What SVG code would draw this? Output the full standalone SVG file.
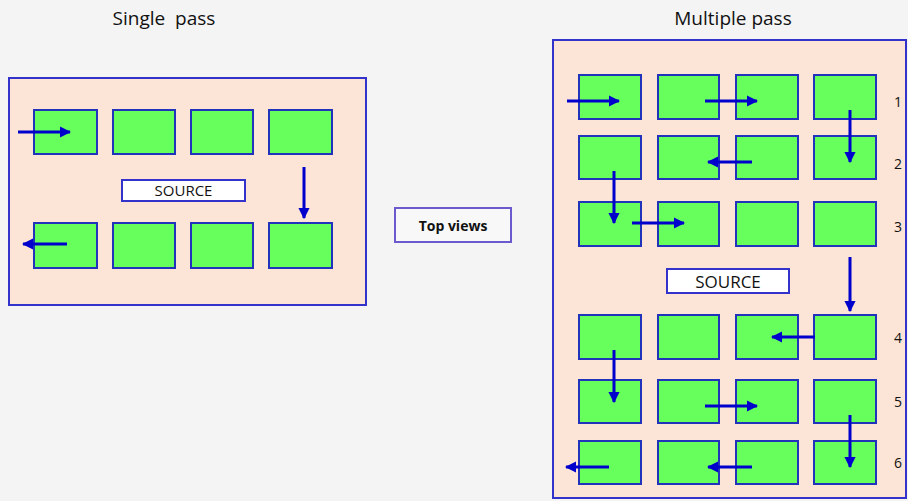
<svg xmlns="http://www.w3.org/2000/svg" width="908" height="501" viewBox="0 0 908 501">
<style>
.bg{fill:#f4f4f4}
.panel{fill:#fce4d6;stroke:#3333cc;stroke-width:2}
.cell{fill:#66ff5c;stroke:#2233bb;stroke-width:2}
.src{fill:#ffffff;stroke:#3333cc;stroke-width:2}
.arr{stroke:#0000cc;stroke-width:3;fill:none;marker-end:url(#ah)}
.t{font-family:"Open Sans","Liberation Sans",sans-serif;fill:#111}
.title{font-size:19px}
.num{font-size:14px}
</style>
<defs>
<marker id="ah" viewBox="0 0 10 10" refX="9" refY="5" markerWidth="3.8" markerHeight="3.8" orient="auto" markerUnits="strokeWidth">
<path d="M0,0 L10,5 L0,10 z" fill="#0000cc"/>
</marker>
</defs>
<rect class="bg" x="0" y="0" width="908" height="501"/>
<text class="t title" x="164" y="25" text-anchor="middle" xml:space="preserve">Single  pass</text>
<text class="t title" x="733" y="25" text-anchor="middle">Multiple pass</text>

<g id="single-pass">
<rect class="panel" x="9" y="78" width="357" height="227"/>
<g id="s-r1c1"><rect class="cell" x="34" y="110" width="63" height="44"/></g>
<g id="s-r1c2"><rect class="cell" x="113" y="110" width="62" height="44"/></g>
<g id="s-r1c3"><rect class="cell" x="191" y="110" width="62" height="44"/></g>
<g id="s-r1c4"><rect class="cell" x="269" y="110" width="63" height="44"/></g>
<g id="s-r2c1"><rect class="cell" x="34" y="223" width="63" height="45"/></g>
<g id="s-r2c2"><rect class="cell" x="113" y="223" width="62" height="45"/></g>
<g id="s-r2c3"><rect class="cell" x="191" y="223" width="62" height="45"/></g>
<g id="s-r2c4"><rect class="cell" x="269" y="223" width="63" height="45"/></g>
<g id="s-source"><rect class="src" x="122" y="180" width="123" height="21"/>
<text class="t" x="183.5" y="196" text-anchor="middle" font-size="15">SOURCE</text></g>
</g>

<g id="top-views">
<rect x="395" y="208" width="116" height="34" fill="#f8f8f8" stroke="#6a5acd" stroke-width="2"/>
<text class="t" x="453" y="231" text-anchor="middle" font-size="14" font-weight="bold">Top views</text>
</g>

<g id="multiple-pass">
<rect class="panel" x="553" y="40" width="353" height="458"/>
<g id="m-r1c1"><rect class="cell" x="579" y="75" width="62" height="44"/></g>
<g id="m-r1c2"><rect class="cell" x="658" y="75" width="61" height="44"/></g>
<g id="m-r1c3"><rect class="cell" x="736" y="75" width="62" height="44"/></g>
<g id="m-r1c4"><rect class="cell" x="814" y="75" width="62" height="44"/></g>
<g id="m-r2c1"><rect class="cell" x="579" y="136" width="62" height="43"/></g>
<g id="m-r2c2"><rect class="cell" x="658" y="136" width="61" height="43"/></g>
<g id="m-r2c3"><rect class="cell" x="736" y="136" width="62" height="43"/></g>
<g id="m-r2c4"><rect class="cell" x="814" y="136" width="62" height="43"/></g>
<g id="m-r3c1"><rect class="cell" x="579" y="202" width="62" height="44"/></g>
<g id="m-r3c2"><rect class="cell" x="658" y="202" width="61" height="44"/></g>
<g id="m-r3c3"><rect class="cell" x="736" y="202" width="62" height="44"/></g>
<g id="m-r3c4"><rect class="cell" x="814" y="202" width="62" height="44"/></g>
<g id="m-r4c1"><rect class="cell" x="579" y="315" width="62" height="44"/></g>
<g id="m-r4c2"><rect class="cell" x="658" y="315" width="61" height="44"/></g>
<g id="m-r4c3"><rect class="cell" x="736" y="315" width="62" height="44"/></g>
<g id="m-r4c4"><rect class="cell" x="814" y="315" width="62" height="44"/></g>
<g id="m-r5c1"><rect class="cell" x="579" y="380" width="62" height="43"/></g>
<g id="m-r5c2"><rect class="cell" x="658" y="380" width="61" height="43"/></g>
<g id="m-r5c3"><rect class="cell" x="736" y="380" width="62" height="43"/></g>
<g id="m-r5c4"><rect class="cell" x="814" y="380" width="62" height="43"/></g>
<g id="m-r6c1"><rect class="cell" x="579" y="441" width="62" height="43"/></g>
<g id="m-r6c2"><rect class="cell" x="658" y="441" width="61" height="43"/></g>
<g id="m-r6c3"><rect class="cell" x="736" y="441" width="62" height="43"/></g>
<g id="m-r6c4"><rect class="cell" x="814" y="441" width="62" height="43"/></g>
<g id="m-source"><rect class="src" x="667" y="269" width="122" height="24"/>
<text class="t" x="728" y="287.5" text-anchor="middle" font-size="17">SOURCE</text></g>
<g id="row-numbers">
<text class="t num" x="898" y="107" text-anchor="middle">1</text>
<text class="t num" x="898" y="169" text-anchor="middle">2</text>
<text class="t num" x="898" y="232" text-anchor="middle">3</text>
<text class="t num" x="898" y="343" text-anchor="middle">4</text>
<text class="t num" x="898" y="407" text-anchor="middle">5</text>
<text class="t num" x="898" y="468" text-anchor="middle">6</text>
</g>
</g>

<g id="connectors">
<line class="arr" x1="18" y1="132" x2="70" y2="132"/>
<line class="arr" x1="304" y1="167" x2="304" y2="218"/>
<line class="arr" x1="67" y1="244" x2="23" y2="244"/>

<line class="arr" x1="567" y1="101" x2="619" y2="101"/>
<line class="arr" x1="705" y1="101" x2="757" y2="101"/>
<line class="arr" x1="850" y1="110" x2="850" y2="162"/>
<line class="arr" x1="752" y1="162" x2="708" y2="162"/>
<line class="arr" x1="614" y1="171" x2="614" y2="223"/>
<line class="arr" x1="632" y1="223" x2="684" y2="223"/>
<line class="arr" x1="850" y1="257" x2="850" y2="311"/>
<line class="arr" x1="815" y1="337" x2="772" y2="337"/>
<line class="arr" x1="614" y1="350" x2="614" y2="402"/>
<line class="arr" x1="705" y1="406" x2="757" y2="406"/>
<line class="arr" x1="850" y1="415" x2="850" y2="467"/>
<line class="arr" x1="752" y1="467" x2="708" y2="467"/>
<line class="arr" x1="609" y1="467" x2="566" y2="467"/>
</g>
</svg>
